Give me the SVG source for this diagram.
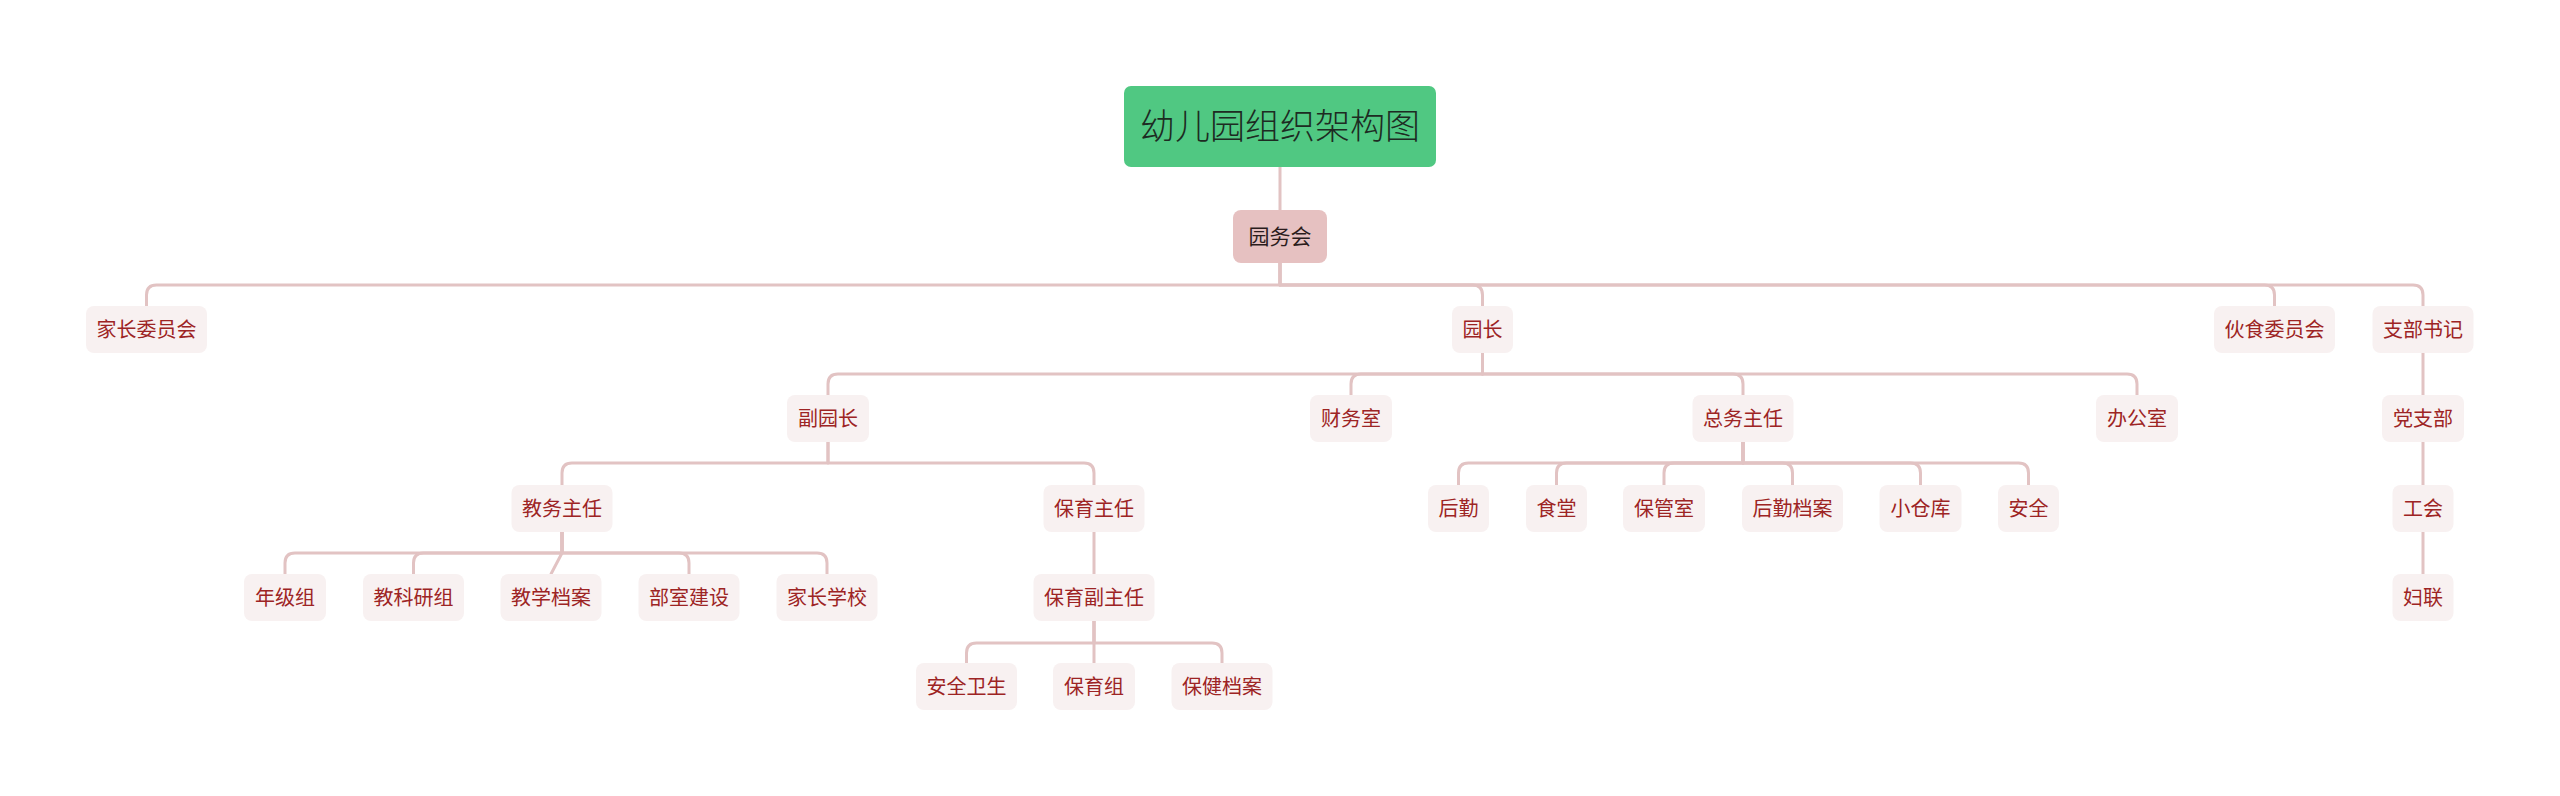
<svg xmlns="http://www.w3.org/2000/svg" width="2560" height="796" viewBox="0 0 2560 796">
<style>
.bg{fill:#ffffff}
.conn path{fill:none;stroke:#e2c3c3;stroke-width:3;stroke-linecap:round;stroke-linejoin:round}
.n rect{fill:#f8f1f1}
.n text{font-family:"Noto Sans CJK SC","Noto Sans",sans-serif;font-size:20px;fill:#9d2424;text-anchor:middle}
.root rect{fill:#50c882}
.root text{font-family:"Noto Sans CJK SC","Noto Sans",sans-serif;font-size:35px;font-weight:300;fill:#1d2b22;text-anchor:middle}
.sub rect{fill:#e6c1c1}
.sub text{font-family:"Noto Sans CJK SC","Noto Sans",sans-serif;font-size:21px;fill:#2a1c1c;text-anchor:middle}
</style>
<rect class="bg" x="0" y="0" width="2560" height="796"/>
<g id="connectors" class="conn">
<path d="M1280,167 V210"/>
<path d="M1280,263 V285 H156.5 Q146.5,285 146.5,295 V306"/>
<path d="M1280,263 V285 H1472.5 Q1482.5,285 1482.5,295 V306"/>
<path d="M1280,263 V285 H2264.5 Q2274.5,285 2274.5,295 V306"/>
<path d="M1280,263 V285 H2413 Q2423,285 2423,295 V306"/>
<path d="M1482.5,353 V374 H838 Q828,374 828,384 V395"/>
<path d="M1482.5,353 V374 H1361 Q1351,374 1351,384 V395"/>
<path d="M1482.5,353 V374 H1733 Q1743,374 1743,384 V395"/>
<path d="M1482.5,353 V374 H2127 Q2137,374 2137,384 V395"/>
<path d="M2423,353 V395"/>
<path d="M2423,442 V485"/>
<path d="M2423,532 V574"/>
<path d="M828,442 V463 H572 Q562,463 562,473 V485"/>
<path d="M828,442 V463 H1084 Q1094,463 1094,473 V485"/>
<path d="M1743,442 V463 H1468.5 Q1458.5,463 1458.5,473 V485"/>
<path d="M1743,442 V463 H1566.5 Q1556.5,463 1556.5,473 V485"/>
<path d="M1743,442 V463 H1674 Q1664,463 1664,473 V485"/>
<path d="M1743,442 V463 H1782.5 Q1792.5,463 1792.5,473 V485"/>
<path d="M1743,442 V463 H1910.5 Q1920.5,463 1920.5,473 V485"/>
<path d="M1743,442 V463 H2018.5 Q2028.5,463 2028.5,473 V485"/>
<path d="M562,532 V553 H295 Q285,553 285,563 V574"/>
<path d="M562,532 V553 H423.5 Q413.5,553 413.5,563 V574"/>
<path d="M562,532 V553 L551,574"/>
<path d="M562,532 V553 H679 Q689,553 689,563 V574"/>
<path d="M562,532 V553 H817 Q827,553 827,563 V574"/>
<path d="M1094,532 V574"/>
<path d="M1094,621 V643 H976.5 Q966.5,643 966.5,653 V663"/>
<path d="M1094,621 V663"/>
<path d="M1094,621 V643 H1212 Q1222,643 1222,653 V663"/>
</g>
<g id="n-root" class="root"><rect x="1124" y="86" width="312" height="81" rx="7"/><text x="1280" y="139">幼儿园组织架构图</text></g>
<g id="n-yuanwuhui" class="sub"><rect x="1233" y="210" width="94" height="53" rx="8"/><text x="1280" y="244">园务会</text></g>
<g id="n-jiazhangweiyuanhui" class="n"><rect x="86" y="306" width="121" height="47" rx="8"/><text x="146.5" y="337">家长委员会</text></g>
<g id="n-yuanzhang" class="n"><rect x="1452" y="306" width="61" height="47" rx="8"/><text x="1482.5" y="337">园长</text></g>
<g id="n-huoshiweiyuanhui" class="n"><rect x="2214" y="306" width="121" height="47" rx="8"/><text x="2274.5" y="337">伙食委员会</text></g>
<g id="n-zhibushuji" class="n"><rect x="2372.5" y="306" width="101" height="47" rx="8"/><text x="2423" y="337">支部书记</text></g>
<g id="n-fuyuanzhang" class="n"><rect x="787" y="395" width="82" height="47" rx="8"/><text x="828" y="426">副园长</text></g>
<g id="n-caiwushi" class="n"><rect x="1310" y="395" width="82" height="47" rx="8"/><text x="1351" y="426">财务室</text></g>
<g id="n-zongwuzhuren" class="n"><rect x="1692.5" y="395" width="101" height="47" rx="8"/><text x="1743" y="426">总务主任</text></g>
<g id="n-bangongshi" class="n"><rect x="2096" y="395" width="82" height="47" rx="8"/><text x="2137" y="426">办公室</text></g>
<g id="n-dangzhibu" class="n"><rect x="2382" y="395" width="82" height="47" rx="8"/><text x="2423" y="426">党支部</text></g>
<g id="n-jiaowuzhuren" class="n"><rect x="511.5" y="485" width="101" height="47" rx="8"/><text x="562" y="516">教务主任</text></g>
<g id="n-baoyuzhuren" class="n"><rect x="1043.5" y="485" width="101" height="47" rx="8"/><text x="1094" y="516">保育主任</text></g>
<g id="n-houqin" class="n"><rect x="1428" y="485" width="61" height="47" rx="8"/><text x="1458.5" y="516">后勤</text></g>
<g id="n-shitang" class="n"><rect x="1526" y="485" width="61" height="47" rx="8"/><text x="1556.5" y="516">食堂</text></g>
<g id="n-baoguanshi" class="n"><rect x="1623" y="485" width="82" height="47" rx="8"/><text x="1664" y="516">保管室</text></g>
<g id="n-houqindangan" class="n"><rect x="1742" y="485" width="101" height="47" rx="8"/><text x="1792.5" y="516">后勤档案</text></g>
<g id="n-xiaocangku" class="n"><rect x="1879.5" y="485" width="82" height="47" rx="8"/><text x="1920.5" y="516">小仓库</text></g>
<g id="n-anquan" class="n"><rect x="1998" y="485" width="61" height="47" rx="8"/><text x="2028.5" y="516">安全</text></g>
<g id="n-gonghui" class="n"><rect x="2392.5" y="485" width="61" height="47" rx="8"/><text x="2423" y="516">工会</text></g>
<g id="n-nianjizu" class="n"><rect x="244" y="574" width="82" height="47" rx="8"/><text x="285" y="605">年级组</text></g>
<g id="n-jiaokeyanzu" class="n"><rect x="363" y="574" width="101" height="47" rx="8"/><text x="413.5" y="605">教科研组</text></g>
<g id="n-jiaoxuedangan" class="n"><rect x="500.5" y="574" width="101" height="47" rx="8"/><text x="551" y="605">教学档案</text></g>
<g id="n-bushijianshe" class="n"><rect x="638.5" y="574" width="101" height="47" rx="8"/><text x="689" y="605">部室建设</text></g>
<g id="n-jiazhangxuexiao" class="n"><rect x="776.5" y="574" width="101" height="47" rx="8"/><text x="827" y="605">家长学校</text></g>
<g id="n-baoyufuzhuren" class="n"><rect x="1033.5" y="574" width="121" height="47" rx="8"/><text x="1094" y="605">保育副主任</text></g>
<g id="n-fulian" class="n"><rect x="2392.5" y="574" width="61" height="47" rx="8"/><text x="2423" y="605">妇联</text></g>
<g id="n-anquanweisheng" class="n"><rect x="916" y="663" width="101" height="47" rx="8"/><text x="966.5" y="694">安全卫生</text></g>
<g id="n-baoyuzu" class="n"><rect x="1053" y="663" width="82" height="47" rx="8"/><text x="1094" y="694">保育组</text></g>
<g id="n-baojiandangan" class="n"><rect x="1171.5" y="663" width="101" height="47" rx="8"/><text x="1222" y="694">保健档案</text></g>
</svg>
